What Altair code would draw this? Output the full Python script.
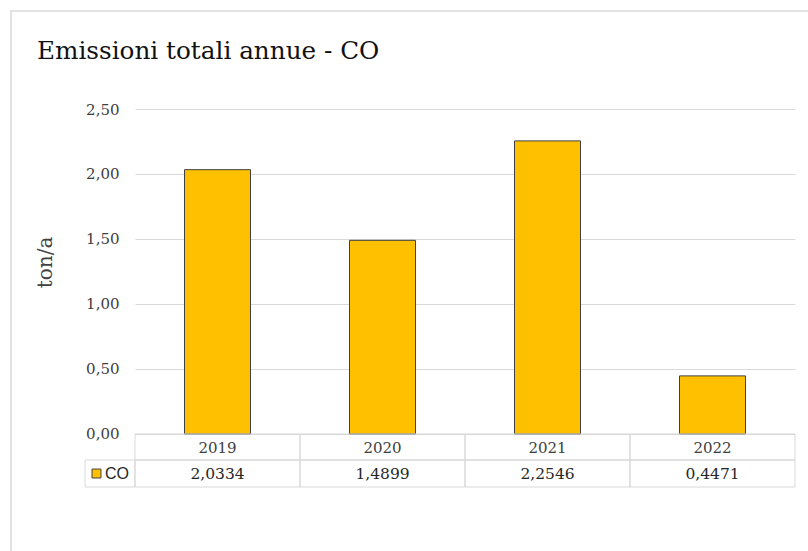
import altair as alt
import pandas as pd

# ---- data ----
years = ["2019", "2020", "2021", "2022"]
co_values = [2.0334, 1.4899, 2.2546, 0.4471]
y_ticks = [0, 0.5, 1.0, 1.5, 2.0, 2.5]
series_name = "CO"
title_text = "Emissioni totali annue - CO"
y_title = "ton/a"

df = pd.DataFrame({"year": years, "value": co_values})

SERIF = "DejaVu Serif"
GRID = "#d9d9d9"
YMIN = -0.4077

x_enc = alt.X("year:N", sort=years, axis=None,
              scale=alt.Scale(paddingInner=0, paddingOuter=0))
y_scale = alt.Scale(domain=[YMIN, 2.5], nice=False, zero=False)

base = alt.Chart(df)
one = base.transform_filter(alt.datum.year == years[0])

bars = base.mark_bar(fill="#FFC000", stroke="#404040", strokeWidth=1,
                     width=alt.RelativeBandSize(0.4)).encode(
    x=x_enc,
    y=alt.Y("value:Q", scale=y_scale,
            axis=alt.Axis(values=y_ticks, grid=True, gridColor=GRID, gridWidth=1,
                          domain=False, ticks=False, labelPadding=16,
                          labelExpr="replace(format(datum.value, '.2f'), '.', ',')",
                          labelFont=SERIF, labelFontSize=15, labelColor="#404040",
                          title=y_title, titleFont=SERIF, titleFontSize=20,
                          titleFontWeight="normal", titleColor="#404040",
                          titleAngle=-90, titleX=-90, titleY=153,
                          titleAlign="center", titleBaseline="middle")),
    y2=alt.Y2(datum=0),
)

# outer frame (decorative)
frame = one.mark_rect(fill=None, stroke=GRID, strokeWidth=1.5).encode(
    x=alt.value(-124), x2=alt.value(690), y=alt.value(-98), y2=alt.value(460))

title = one.mark_text(align="left", baseline="alphabetic", font=SERIF, fontSize=24.7,
                      color="#111111").encode(
    x=alt.value(-98), y=alt.value(-50.5), text=alt.value(title_text))

cell_head = base.mark_rect(fill=None, stroke=GRID, strokeWidth=1).encode(
    x=x_enc, y=alt.Y(datum=0, scale=y_scale), y2=alt.Y2(datum=-0.2))
cell_val = base.mark_rect(fill=None, stroke=GRID, strokeWidth=1).encode(
    x=x_enc, y=alt.Y(datum=-0.2, scale=y_scale), y2=alt.Y2(datum=YMIN))

legend_cell = one.mark_rect(fill=None, stroke=GRID, strokeWidth=1).encode(
    x=alt.value(-50), x2=alt.value(0),
    y=alt.Y(datum=-0.2, scale=y_scale), y2=alt.Y2(datum=YMIN))

legend_sq = one.mark_point(shape="square", filled=True, fill="#FFC000",
                           stroke="#404040", strokeWidth=1, size=80, opacity=1).encode(
    x=alt.value(-38.5), y=alt.Y(datum=-0.304, scale=y_scale))

legend_txt = one.mark_text(align="left", baseline="middle", font="Liberation Sans",
                           fontSize=16, color="#262626").encode(
    x=alt.value(-30), y=alt.Y(datum=-0.304, scale=y_scale),
    text=alt.value(series_name))

year_txt = base.mark_text(font=SERIF, fontSize=15, color="#404040", baseline="middle").encode(
    x=x_enc, y=alt.Y(datum=-0.11, scale=y_scale), text="year:N")

val_txt = base.transform_calculate(
    lab="replace(format(datum.value, '.4f'), '.', ',')"
).mark_text(font=SERIF, fontSize=15.5, color="#262626", baseline="middle").encode(
    x=x_enc, y=alt.Y(datum=-0.31, scale=y_scale), text="lab:N")

chart = alt.layer(frame, title, bars, cell_head, cell_val, legend_cell, legend_sq,
                  legend_txt, year_txt, val_txt).properties(
    width=660, height=378,
    padding={"left": 135, "top": 109, "right": 13, "bottom": 64},
    autosize=alt.AutoSizeParams(type="none"),
).configure(background="white").configure_view(strokeWidth=0)

chart.save("out.html", embed_options={"renderer": "svg", "actions": False})
